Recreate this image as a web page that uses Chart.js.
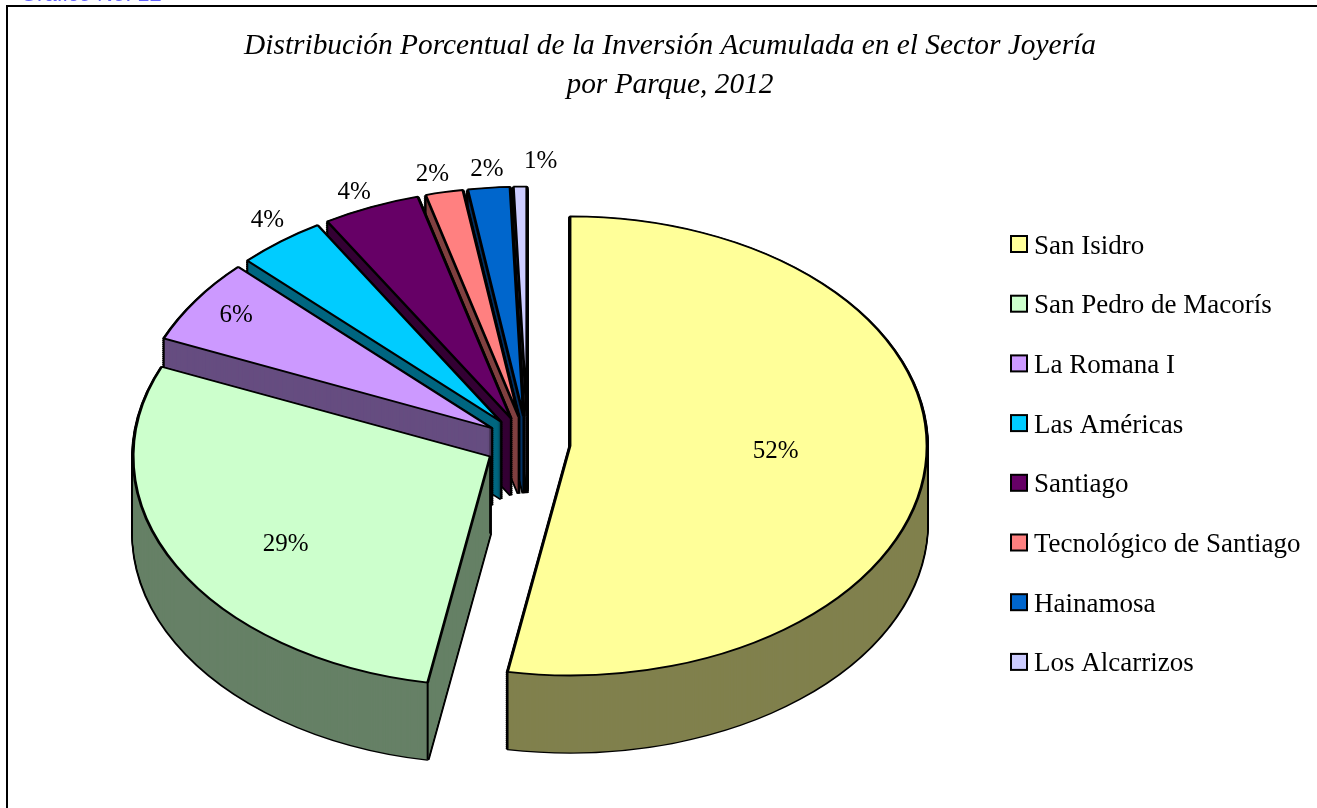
<!DOCTYPE html>
<html lang="es">
<head>
<meta charset="utf-8">
<title>Inversión Acumulada Sector Joyería</title>
<script src="https://cdn.jsdelivr.net/npm/chart.js@4"></script>
<style>
    html, body { margin: 0; padding: 0; background: #fff; overflow: hidden; }
    #wrap { position: relative; width: 1317px; height: 808px; }
</style>
</head>
<body>
<div id="wrap"><canvas id="pieChart" width="1317" height="808"></canvas></div>
<script>
const parks = ['San Isidro', 'San Pedro de Macorís', 'La Romana I', 'Las Américas', 'Santiago', 'Tecnológico de Santiago', 'Hainamosa', 'Los Alcarrizos'];
// slice sizes, the printed labels are the rounded ones in the original
const shares = [52.8, 28.6, 6.0, 4.0, 4.4, 1.7, 1.9, 0.6];
const shownPercents = ['52%', '29%', '6%', '4%', '4%', '2%', '2%', '1%'];
const topColors = ['#FFFF99', '#CCFFCC', '#CC99FF', '#00CCFF', '#660066', '#FF8080', '#0066CC', '#CCCCFF'];
const wallColors = ['#80804D', '#668066', '#664D80', '#006680', '#330033', '#804040', '#003366', '#666680'];
const titleLines = ['Distribución Porcentual de la Inversión Acumulada en el Sector Joyería', 'por Parque, 2012'];

// look of the fake 3D pie
const pieCenterX = 527.6;
const pieCenterY = 443.5;
const pieRadius = 357;
const tilt = 0.643;
const explode = 42.6;
const depth = 77;

// where the percent labels sit: distance from the slice tip (in radii), and angle nudge in degrees
const labelRadius = [0.575, 0.686, 0.877, 1.105, 1.085, 1.091, 1.087, 1.12];
const labelNudge = [-3.4, -4.7, 1.1, 1.7, -0.9, -0.8, 0.1, 3];

const pie3d = {
    id: 'pie3d',
    beforeDatasetDraw(chart, args) {
        const ctx = chart.ctx;
        const arcs = args.meta.data;

        function onPlane(arc, draw, drop) {
            const mid = (arc.startAngle + arc.endAngle) / 2;
            ctx.save();
            ctx.translate(pieCenterX, pieCenterY + drop);
            ctx.scale(1, tilt);
            ctx.translate(Math.cos(mid) * explode - arc.x, Math.sin(mid) * explode - arc.y);
            draw();
            ctx.restore();
        }

        function drawArc(arc, fill, stroke, width, drop) {
            const saved = arc.options;
            arc.options = { ...saved, backgroundColor: fill, borderColor: stroke, borderWidth: width };
            onPlane(arc, () => arc.draw(ctx), drop);
            arc.options = saved;
        }

        function cornerEdge(px, py) {
            ctx.beginPath();
            ctx.moveTo(px, py);
            ctx.lineTo(px, py + depth);
            ctx.stroke();
        }

        // back slices first, San Isidro and San Pedro go last
        for (let i = arcs.length - 1; i >= 0; i--) {
            const arc = arcs[i];
            const mid = (arc.startAngle + arc.endAngle) / 2;
            const tipX = pieCenterX + Math.cos(mid) * explode;
            const tipY = pieCenterY + Math.sin(mid) * explode * tilt;

            // outline of the extruded shape, then the wall on top of it
            for (let d = depth; d > 0; d -= 2) drawArc(arc, '#000', '#000', 4, d);
            for (let d = depth; d > 0; d -= 1) drawArc(arc, wallColors[i], wallColors[i], 0, d);

            ctx.save();
            ctx.strokeStyle = '#000';
            ctx.lineWidth = 2;
            cornerEdge(tipX, tipY);
            [arc.startAngle, arc.endAngle].forEach(a => {
                cornerEdge(tipX + Math.cos(a) * pieRadius, tipY + Math.sin(a) * pieRadius * tilt);
            });
            ctx.restore();

            drawArc(arc, topColors[i], '#000', 2.8, 0);
        }

        // percent labels
        ctx.save();
        ctx.font = '25px "Liberation Serif"';
        ctx.fillStyle = '#000';
        ctx.textAlign = 'center';
        ctx.textBaseline = 'middle';
        arcs.forEach((arc, i) => {
            const mid = (arc.startAngle + arc.endAngle) / 2;
            const a = mid + labelNudge[i] * Math.PI / 180;
            const r = labelRadius[i] * pieRadius;
            const x = pieCenterX + Math.cos(mid) * explode + Math.cos(a) * r;
            const y = pieCenterY + (Math.sin(mid) * explode + Math.sin(a) * r) * tilt;
            ctx.fillText(shownPercents[i], x + 0.5, y + 2);
        });
        ctx.restore();
        return false;
    },
    afterDraw(chart) {
        const ctx = chart.ctx;
        ctx.save();

        // caption of the page above the frame, cut off by the top edge
        ctx.font = '22px "Liberation Sans"';
        ctx.fillStyle = '#6060FF';
        ctx.textBaseline = 'alphabetic';
        ctx.fillText('Gráfico No. 12', 20, 1);

        // frame, only the top and left edges are on the page
        ctx.strokeStyle = '#000';
        ctx.lineWidth = 2;
        ctx.beginPath();
        ctx.moveTo(7, 808);
        ctx.lineTo(7, 6);
        ctx.lineTo(1317, 6);
        ctx.stroke();

        // legend
        ctx.font = '27px "Liberation Serif"';
        ctx.textBaseline = 'middle';
        ctx.textAlign = 'left';
        parks.forEach((name, i) => {
            const y = 245 + i * 59.7;
            ctx.fillStyle = topColors[i];
            ctx.fillRect(1011, y - 9, 16, 16);
            ctx.strokeStyle = '#000';
            ctx.lineWidth = 2;
            ctx.strokeRect(1011, y - 9, 16, 16);
            ctx.fillStyle = '#000';
            ctx.fillText(name, 1034, y + 1.5);
        });
        ctx.restore();
    }
};

document.addEventListener('DOMContentLoaded', function() {
    const ctx = document.getElementById('pieChart').getContext('2d');

    new Chart(ctx, {
        type: 'pie',
        data: {
            labels: parks,
            datasets: [{
                data: shares,
                backgroundColor: topColors,
                borderColor: '#000',
                borderWidth: 2,
                radius: pieRadius
            }]
        },
        options: {
            responsive: false,
            animation: false,
            layout: { padding: { left: 23 } },
            plugins: {
                legend: { display: false },
                tooltip: { enabled: false },
                title: {
                    display: true,
                    text: titleLines,
                    color: '#000',
                    font: { family: '"Liberation Serif"', size: 29.4, style: 'italic', weight: 'normal', lineHeight: 1.33 },
                    padding: { top: 27, bottom: 10 }
                }
            }
        },
        plugins: [pie3d]
    });
});
</script>
</body>
</html>
